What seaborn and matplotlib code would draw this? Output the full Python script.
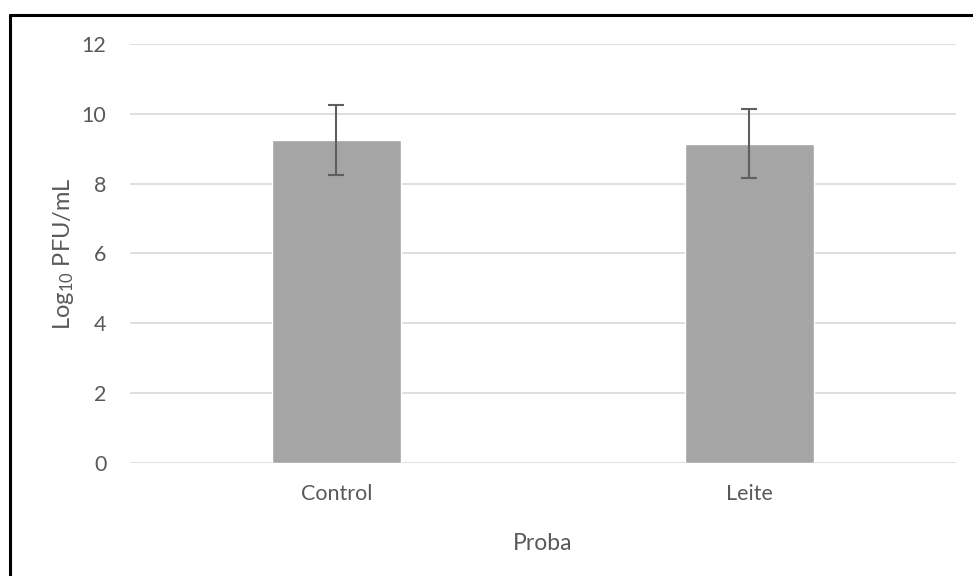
import pandas as pd
import matplotlib.pyplot as plt
import seaborn as sns
from matplotlib.lines import Line2D

# data
samples = ['Control', 'Leite']
log_pfu = [9.25, 9.15]
err = [1.0, 1.0]

df = pd.DataFrame({'Proba': samples, 'LogPFU': log_pfu})

sns.set_theme(style='white')
plt.rcParams['font.family'] = ['Lato', 'DejaVu Sans']
plt.rcParams['mathtext.default'] = 'regular'

text_col = '#595959'
fig = plt.figure(figsize=(9.73, 5.76), dpi=100)
ax = fig.add_axes([0.1336, 0.1962, 0.8489, 0.7274])

sns.barplot(data=df, x='Proba', y='LogPFU', color='#a5a5a5', width=0.313,
            saturation=1, errorbar=None, ax=ax, zorder=2)
ax.errorbar(range(len(samples)), log_pfu, yerr=err, fmt='none',
            ecolor='#5f5f5f', elinewidth=1.5, capsize=6, capthick=1.5, zorder=3)

ax.set_ylim(0, 12)
ax.set_xlim(-0.5, len(samples) - 0.5)
ax.set_yticks(range(0, 13, 2))
ax.yaxis.grid(True, color='#d9d9d9', linewidth=1.2, zorder=0)
ax.set_axisbelow(True)
for s in ax.spines.values():
    s.set_visible(False)
ax.tick_params(axis='both', length=0, labelsize=15.5, colors=text_col)
ax.tick_params(axis='y', pad=17)
ax.tick_params(axis='x', pad=15)

ax.set_xlabel('Proba', fontsize=16.5, color=text_col, labelpad=21)
ax.set_ylabel('Log$_{10}$ PFU/mL', fontsize=17, color=text_col, labelpad=4)

# outer frame (only top and left visible in the crop)
fig.add_artist(Line2D([9.5 / 973, 9.5 / 973], [1 - 15 / 576, -0.1], color='black', linewidth=2.2,
                      transform=fig.transFigure))
fig.add_artist(Line2D([9.5 / 973, 1.1], [1 - 15 / 576, 1 - 15 / 576], color='black', linewidth=2.2,
                      transform=fig.transFigure))

fig.savefig('out.png', dpi=100, facecolor='white')
